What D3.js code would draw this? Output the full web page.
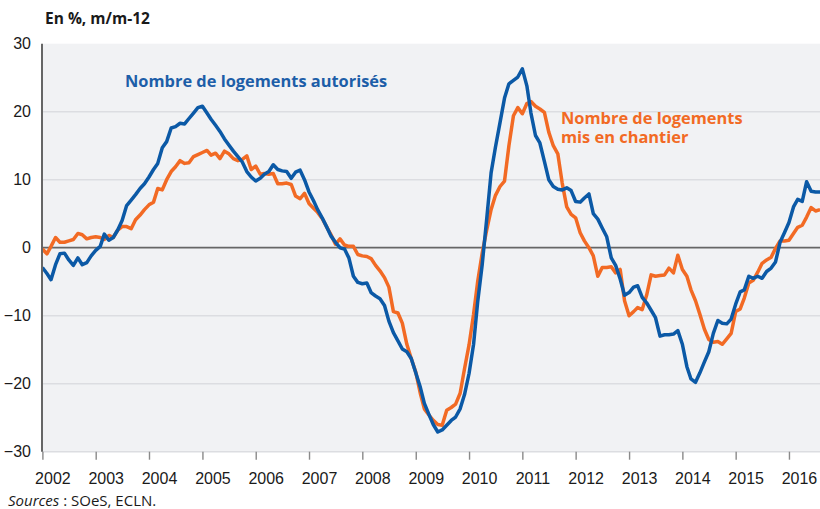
<!DOCTYPE html>
<html>
<head>
<meta charset="utf-8">
<script src="https://cdn.jsdelivr.net/npm/d3@7"></script>
<style>
  body { margin: 0; background: #fff; }
  svg { display: block; font-family: "Open Sans", sans-serif; }
</style>
</head>
<body>
<div id="chart"></div>
<script>
// monthly series, Jan 2002 -> Aug 2016, in % (m/m-12)
const startYear = 2002;
const yearTicks = d3.range(2002, 2017);
const yTicks = [-30, -20, -10, 0, 10, 20, 30];

const autorises = [
    -2.9, -3.8, -4.7, -2.5, -0.9, -0.8, -1.8, -2.6, -1.5, -2.5, -2.2, -1.2,   // 2002
    -0.4, 0.2, 2.0, 1.1, 1.5, 2.6, 4.0, 6.2, 7.0, 7.8, 8.7, 9.4,              // 2003
    10.4, 11.5, 12.4, 14.7, 15.6, 17.6, 17.8, 18.3, 18.2, 19.0, 19.8, 20.6,   // 2004
    20.8, 19.8, 18.9, 18.0, 17.1, 16.0, 15.1, 14.2, 13.4, 12.6, 11.2, 10.4,   // 2005
    9.8, 10.2, 10.8, 11.2, 12.2, 11.5, 11.3, 11.2, 10.2, 11.1, 11.4, 10.0,    // 2006
    8.2, 6.9, 5.6, 4.4, 3.1, 1.7, 0.8, 0.0, -0.2, -1.5, -4.2, -5.1,           // 2007
    -5.3, -5.2, -6.6, -7.1, -7.5, -8.5, -10.8, -12.5, -13.7, -14.9, -15.3, -16.3, // 2008
    -18.4, -20.5, -22.9, -24.5, -26.0, -27.1, -26.8, -26.1, -25.4, -24.9, -23.7, -21.6, // 2009
    -18.5, -14.2, -8.0, -2.5, 4.0, 11.0, 14.8, 18.4, 22.0, 24.1, 24.6, 25.1,  // 2010
    26.3, 23.8, 19.8, 16.5, 15.4, 12.7, 10.0, 9.0, 8.6, 8.5, 8.8, 8.4,        // 2011
    6.8, 6.7, 7.3, 7.9, 5.0, 4.2, 2.9, 1.6, -1.5, -2.6, -4.6, -7.0,           // 2012
    -6.6, -5.8, -5.6, -7.3, -8.1, -9.2, -10.3, -13.0, -12.8, -12.8, -12.7, -12.2, // 2013
    -14.2, -17.5, -19.3, -19.8, -18.4, -16.8, -15.3, -12.6, -10.7, -11.1, -11.2, -10.5, // 2014
    -8.3, -6.5, -6.2, -4.2, -4.5, -4.2, -4.5, -3.5, -3.0, -2.1, 0.8, 2.2,     // 2015
    3.7, 6.0, 7.1, 6.8, 9.7, 8.3, 8.2, 8.2                                    // 2016
];

const misEnChantier = [
    -0.2, -0.9, 0.2, 1.5, 0.8, 0.8, 1.0, 1.2, 2.1, 1.9, 1.3, 1.5,             // 2002
    1.6, 1.5, 1.2, 1.8, 1.5, 2.6, 3.1, 3.1, 2.8, 4.1, 4.8, 5.6,               // 2003
    6.3, 6.7, 8.7, 8.5, 10.0, 11.2, 11.9, 12.8, 12.4, 12.5, 13.4, 13.7,       // 2004
    14.0, 14.3, 13.6, 13.9, 13.1, 14.2, 13.8, 13.1, 12.8, 13.0, 13.5, 11.5,   // 2005
    12.0, 10.8, 10.9, 10.8, 10.9, 9.4, 9.4, 9.5, 9.3, 7.6, 7.2, 8.0,          // 2006
    6.5, 5.8, 5.2, 4.3, 3.1, 1.9, 0.5, 1.3, 0.4, 0.2, 0.2, -1.0,              // 2007
    -1.2, -1.3, -1.6, -2.6, -3.4, -4.4, -5.8, -9.4, -9.6, -11.1, -14.2, -16.3, // 2008
    -18.3, -21.4, -23.7, -24.6, -25.4, -26.0, -26.1, -23.9, -23.5, -23.0, -21.4, -17.8, // 2009
    -14.3, -9.8, -5.0, -0.8, 2.5, 5.6, 7.7, 9.0, 9.8, 15.0, 19.4, 20.6,       // 2010
    19.7, 21.2, 21.5, 20.8, 20.4, 19.9, 17.0, 15.0, 13.8, 9.5, 6.0, 4.9,      // 2011
    4.4, 2.2, 1.0, 0.0, -1.2, -4.2, -2.9, -2.9, -2.8, -3.7, -3.2, -7.8,       // 2012
    -10.0, -9.4, -8.8, -9.1, -7.0, -4.0, -4.2, -4.1, -4.0, -3.0, -3.7, -1.1,  // 2013
    -3.2, -4.2, -6.2, -7.8, -9.8, -12.0, -13.5, -13.9, -13.8, -14.2, -13.4, -12.6, // 2014
    -9.4, -9.0, -7.4, -5.2, -4.8, -3.6, -2.3, -1.8, -1.4, -0.1, 1.0, 1.0,     // 2015
    1.1, 2.1, 3.0, 3.3, 4.5, 5.9, 5.4, 5.6                                    // 2016
];

const blue = "#0b59a6";
const orange = "#f26a24";

const width = 820, height = 509;
const plot = { left: 42, right: 820, top: 43.7, bottom: 451.7 };

const svg = d3.select("#chart").append("svg")
    .attr("width", width)
    .attr("height", height)
    .attr("viewBox", [0, 0, width, height]);

const x = d3.scaleTime()
    .domain([new Date(startYear, 0, 1), new Date(2017, 0, 1)])
    .range([42.4, 842.4]);
const y = d3.scaleLinear()
    .domain([-30, 30])
    .range([plot.bottom, plot.top]);

const toPoints = arr => arr.map((v, i) => ({ date: new Date(startYear, i, 1), v: v }));

// plot background
svg.append("rect")
    .attr("x", plot.left).attr("y", plot.top)
    .attr("width", plot.right - plot.left)
    .attr("height", plot.bottom - plot.top)
    .attr("fill", "#f1f2f4");

svg.append("clipPath").attr("id", "clip")
    .append("rect")
    .attr("x", plot.left).attr("y", plot.top - 5)
    .attr("width", plot.right - plot.left)
    .attr("height", plot.bottom - plot.top + 5);

// horizontal grid
svg.append("g")
    .selectAll("line")
    .data(yTicks.filter(d => d !== 0 && d !== 30))
    .join("line")
    .attr("x1", plot.left).attr("x2", plot.right)
    .attr("y1", d => y(d)).attr("y2", d => y(d))
    .attr("stroke", "#dcdde1")
    .attr("stroke-width", 1.4);

// x axis: ticks at year boundaries, labels shifted a bit to the right
svg.append("g")
    .attr("transform", `translate(0,${plot.bottom})`)
    .call(d3.axisBottom(x)
        .tickValues(yearTicks.map(yr => new Date(yr, 0, 1)))
        .tickFormat(d3.timeFormat("%Y"))
        .tickSize(8)
        .tickPadding(13))
    .call(g => g.select(".domain").remove())
    .call(g => g.selectAll(".tick line").attr("stroke", "#8a8a8a").attr("stroke-width", 1.4))
    .call(g => g.selectAll(".tick text")
        .attr("dx", 10)
        .attr("fill", "#1a1a1a")
        .style("font-size", "16px"));

// y axis labels
svg.append("g")
    .attr("transform", `translate(${plot.left},0)`)
    .call(d3.axisLeft(y).tickValues(yTicks).tickSize(0).tickPadding(11))
    .call(g => g.select(".domain").remove())
    .call(g => g.selectAll(".tick text")
        .attr("fill", "#1a1a1a")
        .style("font-size", "16px"));

// zero line
svg.append("line")
    .attr("x1", plot.left).attr("x2", plot.right)
    .attr("y1", y(0)).attr("y2", y(0))
    .attr("stroke", "#666")
    .attr("stroke-width", 1.8);

const line = d3.line()
    .x(d => x(d.date))
    .y(d => y(d.v));

const lines = svg.append("g").attr("clip-path", "url(#clip)");

lines.append("path")
    .datum(toPoints(misEnChantier))
    .attr("fill", "none")
    .attr("stroke", orange)
    .attr("stroke-width", 3.5)
    .attr("stroke-linejoin", "round")
    .attr("d", line);

lines.append("path")
    .datum(toPoints(autorises))
    .attr("fill", "none")
    .attr("stroke", blue)
    .attr("stroke-width", 3.5)
    .attr("stroke-linejoin", "round")
    .attr("d", line);

// left axis line
svg.append("line")
    .attr("x1", plot.left).attr("x2", plot.left)
    .attr("y1", plot.top).attr("y2", plot.bottom)
    .attr("stroke", "#666")
    .attr("stroke-width", 2);

// unit label
svg.append("text")
    .attr("x", 45).attr("y", 24)
    .attr("fill", "#1a1a1a")
    .style("font-size", "15.5px")
    .style("font-weight", "bold")
    .text("En %, m/m-12");

// series labels
svg.append("text")
    .attr("x", 125).attr("y", 87)
    .attr("fill", "#1d5ea8")
    .style("font-size", "16.4px")
    .style("font-weight", "bold")
    .text("Nombre de logements autorisés");

svg.append("text")
    .attr("x", 561).attr("y", 124)
    .attr("fill", orange)
    .style("font-size", "16.4px")
    .style("font-weight", "bold")
    .call(t => t.append("tspan").text("Nombre de logements"))
    .call(t => t.append("tspan").attr("x", 561).attr("dy", 19).text("mis en chantier"));

// source
svg.append("text")
    .attr("x", 8).attr("y", 506)
    .attr("fill", "#1a1a1a")
    .style("font-size", "15px")
    .call(t => t.append("tspan").style("font-style", "italic").text("Sources"))
    .call(t => t.append("tspan").text(" : SOeS, ECLN."));
</script>
</body>
</html>
